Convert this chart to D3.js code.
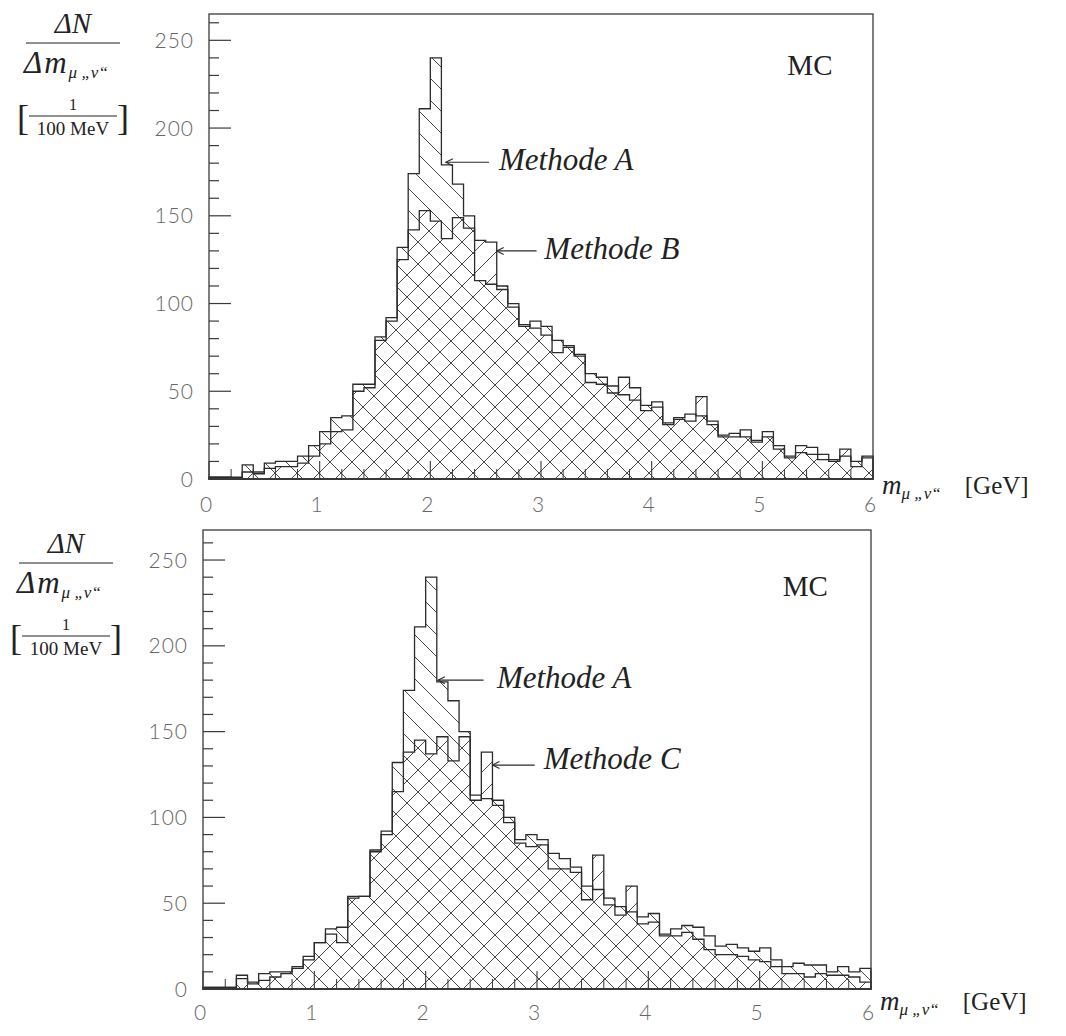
<!DOCTYPE html>
<html>
<head>
<meta charset="utf-8">
<script src="https://cdn.jsdelivr.net/npm/d3@7"></script>
<style>
  body { margin: 0; background: #fff; }
  svg { display: block; }
</style>
</head>
<body>
<svg id="chart" width="1066" height="1036"></svg>
<script>
// ---------- data ----------
// lower edges of the 100 MeV mass bins (GeV)
const binEdges = [0.0,0.1,0.2,0.3,0.4,0.5,0.6,0.7,0.8,0.9,
                  1.0,1.1,1.2,1.3,1.4,1.5,1.6,1.7,1.8,1.9,
                  2.0,2.1,2.2,2.3,2.4,2.5,2.6,2.7,2.8,2.9,
                  3.0,3.1,3.2,3.3,3.4,3.5,3.6,3.7,3.8,3.9,
                  4.0,4.1,4.2,4.3,4.4,4.5,4.6,4.7,4.8,4.9,
                  5.0,5.1,5.2,5.3,5.4,5.5,5.6,5.7,5.8,5.9];
const rangeEnd = 6.0;

// Methode A (same histogram in both panels)
const methodA = [1,1,1,8,4,9,10,10,13,19,
                 27,35,36,54,54,81,92,132,174,211,
                 240,179,168,150,113,111,110,100,87,90,
                 87,79,76,71,60,58,53,48,45,42,
                 44,32,35,37,36,31,25,26,24,22,
                 24,17,13,15,14,14,10,13,10,12];
// Methode B (upper panel)
const methodB = [1,1,0,4,3,6,7,7,9,13,
                 20,27,28,50,52,79,90,125,142,153,
                 147,137,149,143,136,135,108,98,88,86,
                 82,72,75,70,55,54,49,58,52,39,
                 41,31,34,33,47,33,24,24,28,21,
                 27,19,12,19,18,11,11,17,7,13];
// Methode C (lower panel)
const methodC = [1,1,1,6,3,5,7,9,12,17,
                 27,32,27,53,54,80,90,115,138,145,
                 137,147,133,147,110,138,107,97,85,83,
                 84,70,70,68,52,78,49,43,60,38,
                 39,31,31,33,29,23,20,20,19,17,
                 16,13,9,9,7,9,8,8,7,4];

const yTickValues = [0,50,100,150,200,250];
const yMinorValues = [0,10,20,30,40,50,60,70,80,90,100,110,120,130,140,150,160,170,180,190,200,210,220,230,240,250,260];
const xTickValues = [0,1,2,3,4,5,6];
const xMinorValues = [0.2,0.4,0.6,0.8,1.2,1.4,1.6,1.8,2.2,2.4,2.6,2.8,3.2,3.4,3.6,3.8,4.2,4.4,4.6,4.8,5.2,5.4,5.6,5.8];
const xTickLabels = ["0","1","2","3","4","5","6"];

const panels = [
  { left: 209, right: 873, base: 479, top: 14, yMax: 265, second: methodB,
    labels: [ {text:"Methode A", tip:[2.14,180.5], tail:[2.53,180.5], at:[2.62,176]},
              {text:"Methode B", tip:[2.60,130], tail:[2.96,130], at:[3.03,125.5]} ],
    mc: [5.43, 230], xLabelDy: 25, titleY: 494, yTitle: {cx: 73, base: 33} },
  { left: 203, right: 871, base: 989, top: 530, yMax: 267.5, second: methodC,
    labels: [ {text:"Methode A", tip:[2.11,180], tail:[2.52,180], at:[2.64,175.5]},
              {text:"Methode C", tip:[2.60,130.5], tail:[2.98,130.5], at:[3.06,128.5]} ],
    mc: [5.41, 229], xLabelDy: 23, titleY: 1010, yTitle: {cx: 66, base: 553} }
];

// ---------- drawing ----------
const svg = d3.select("#chart");
const ink = "#2b2b2b";
const hatchInk = "#4a4a4a";
const serif = "'Liberation Serif','Times New Roman',serif";
const sans = "Lato, 'Open Sans', sans-serif";

const defs = svg.append("defs");
function addPattern(id, d) {
  defs.append("pattern").attr("id", id)
    .attr("patternUnits", "userSpaceOnUse").attr("width", 22).attr("height", 22)
    .append("path").attr("d", d)
    .attr("stroke", hatchInk).attr("stroke-width", 1).attr("fill", "none");
}
addPattern("hatchBack", "M-11,11L11,33M0,0L22,22M11,-11L33,11");
addPattern("hatchFwd", "M-11,11L11,-11M0,22L22,0M11,33L33,11");

function histData(vals) {
  const d = binEdges.map((m, i) => ({ m, v: vals[i] }));
  d.push({ m: rangeEnd, v: vals[vals.length - 1] });
  return d;
}

panels.forEach(p => {
  const x = d3.scaleLinear().domain([0, 6]).range([p.left, p.right]);
  const y = d3.scaleLinear().domain([0, p.yMax]).range([p.base, p.top]);
  const g = svg.append("g");

  const area = d3.area().curve(d3.curveStepAfter)
    .x(d => x(d.m)).y0(y(0)).y1(d => y(d.v));

  // hatched fills
  g.append("path").attr("d", area(histData(methodA)))
    .attr("fill", "url(#hatchBack)").attr("stroke", "none");
  g.append("path").attr("d", area(histData(p.second)))
    .attr("fill", "url(#hatchFwd)").attr("stroke", "none");
  // outlines
  [methodA, p.second].forEach(vals => {
    g.append("path").attr("d", area(histData(vals)))
      .attr("fill", "none").attr("stroke", ink).attr("stroke-width", 1.3)
      .attr("stroke-linejoin", "miter");
  });

  // frame
  g.append("rect").attr("x", p.left).attr("y", p.top)
    .attr("width", p.right - p.left).attr("height", p.base - p.top)
    .attr("fill", "none").attr("stroke", "#3a3a3a").attr("stroke-width", 1.3);

  // y ticks (inside)
  g.selectAll(".ymin").data(yMinorValues).join("line")
    .attr("x1", p.left).attr("x2", d => p.left + (d % 50 === 0 ? 22 : 10))
    .attr("y1", d => y(d)).attr("y2", d => y(d))
    .attr("stroke", "#3a3a3a").attr("stroke-width", 1.2);
  // x ticks (inside)
  g.selectAll(".xmaj").data(xTickValues).join("line")
    .attr("x1", d => x(d)).attr("x2", d => x(d))
    .attr("y1", p.base).attr("y2", p.base - 18)
    .attr("stroke", "#3a3a3a").attr("stroke-width", 1.1);
  g.selectAll(".xmin").data(xMinorValues).join("line")
    .attr("x1", d => x(d)).attr("x2", d => x(d))
    .attr("y1", p.base).attr("y2", p.base - 10)
    .attr("stroke", "#3a3a3a").attr("stroke-width", 1.0);

  // tick labels
  g.selectAll(".ylab").data(yTickValues).join("text")
    .attr("x", p.left - 15).attr("y", d => y(d))
    .attr("dy", "0.36em").attr("text-anchor", "end")
    .attr("font-family", sans).attr("font-weight", 300).attr("font-size", 21)
    .attr("letter-spacing", 1).attr("fill", "#666")
    .text(d => d);
  g.selectAll(".xlab").data(xTickValues).join("text")
    .attr("x", d => x(d) - 3).attr("y", p.base + p.xLabelDy)
    .attr("dy", "0.36em").attr("text-anchor", "middle")
    .attr("font-family", sans).attr("font-weight", 300).attr("font-size", 21)
    .attr("fill", "#666")
    .text((d, i) => xTickLabels[i]);

  // MC label
  g.append("text").attr("x", x(p.mc[0])).attr("y", y(p.mc[1]))
    .attr("text-anchor", "middle").attr("font-family", serif)
    .attr("font-size", 29).attr("fill", "#222").text("MC");

  // method annotations
  p.labels.forEach(l => {
    const tx = x(l.tip[0]), ty = y(l.tip[1]);
    const ex = x(l.tail[0]);
    g.append("line").attr("x1", tx).attr("y1", ty).attr("x2", ex).attr("y2", ty)
      .attr("stroke", ink).attr("stroke-width", 1.2);
    g.append("path").attr("d", `M${tx + 7},${ty - 3.5}L${tx},${ty}L${tx + 7},${ty + 3.5}`)
      .attr("fill", "none").attr("stroke", ink).attr("stroke-width", 1.1);
    g.append("text").attr("x", x(l.at[0])).attr("y", y(l.at[1]))
      .attr("font-family", serif).attr("font-style", "italic")
      .attr("font-size", 31).attr("fill", "#222").text(l.text);
  });

  // x-axis title
  const xt = g.append("text").attr("x", p.right + 9).attr("y", p.titleY)
    .attr("font-family", serif).attr("font-size", 25).attr("fill", "#222");
  xt.append("tspan").attr("font-style", "italic").attr("font-size", 27).text("m");
  xt.append("tspan").attr("font-style", "italic").attr("font-size", 17).attr("dy", 5).text("μ „ν“");
  xt.append("tspan").attr("dy", -5).attr("dx", 24).text("[GeV]");

  // y-axis title
  const t = p.yTitle;
  g.append("text").attr("x", t.cx).attr("y", t.base).attr("text-anchor", "middle")
    .attr("font-family", serif).attr("font-style", "italic").attr("font-size", 29)
    .attr("fill", "#222").text("ΔN");
  g.append("line").attr("x1", t.cx - 47).attr("x2", t.cx + 47)
    .attr("y1", t.base + 10).attr("y2", t.base + 10)
    .attr("stroke", "#222").attr("stroke-width", 1.2);
  const dm = g.append("text").attr("x", t.cx - 49).attr("y", t.base + 40)
    .attr("font-family", serif).attr("font-style", "italic").attr("font-size", 31)
    .attr("fill", "#222");
  dm.append("tspan").attr("letter-spacing", 2).text("Δm");
  dm.append("tspan").attr("font-size", 17).attr("dy", 5).text("μ „ν“");
  // [1 / 100 MeV]
  g.append("text").attr("x", t.cx - 56).attr("y", t.base + 97)
    .attr("font-family", serif).attr("font-size", 36).attr("fill", "#222").text("[");
  g.append("text").attr("x", t.cx + 56).attr("y", t.base + 97).attr("text-anchor", "end")
    .attr("font-family", serif).attr("font-size", 36).attr("fill", "#222").text("]");
  g.append("text").attr("x", t.cx).attr("y", t.base + 77).attr("text-anchor", "middle")
    .attr("font-family", serif).attr("font-size", 16).attr("fill", "#222").text("1");
  g.append("line").attr("x1", t.cx - 44).attr("x2", t.cx + 44)
    .attr("y1", t.base + 83).attr("y2", t.base + 83)
    .attr("stroke", "#222").attr("stroke-width", 1);
  g.append("text").attr("x", t.cx).attr("y", t.base + 102).attr("text-anchor", "middle")
    .attr("font-family", serif).attr("font-size", 19).attr("fill", "#222").text("100 MeV");
});
</script>
</body>
</html>
